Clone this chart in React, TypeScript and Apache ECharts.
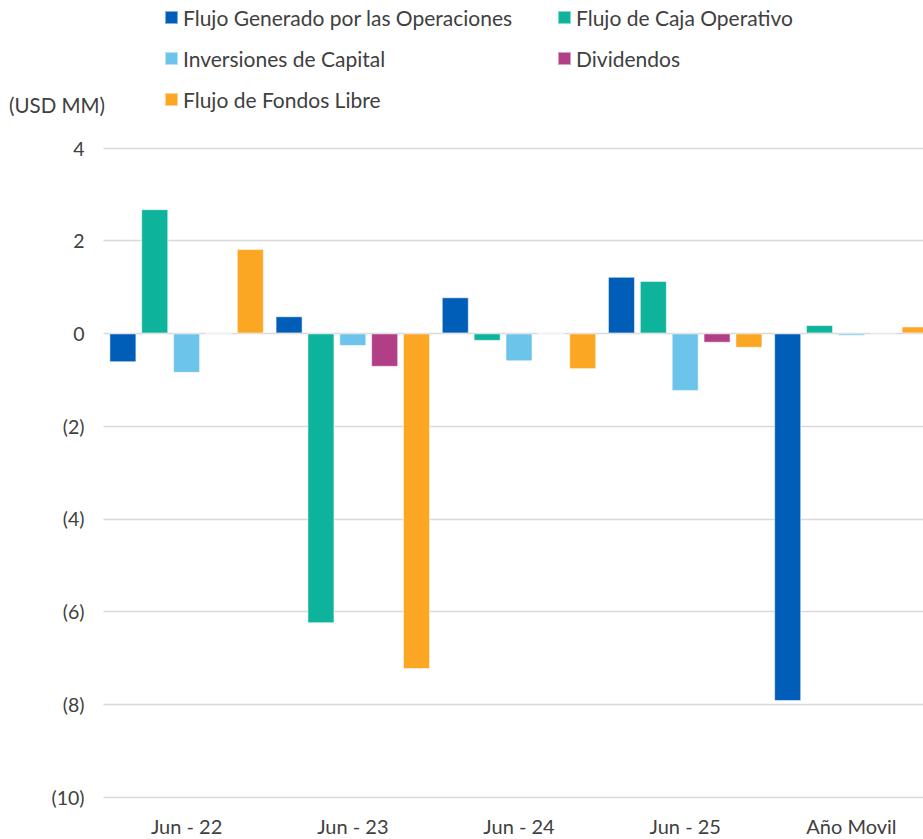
import React, { useEffect, useRef } from "react";
import * as echarts from "echarts";

const categories = ["Jun - 22", "Jun - 23", "Jun - 24", "Jun - 25", "Año Movil"];
const seriesNames = [
  "Flujo Generado por las Operaciones",
  "Flujo de Caja Operativo",
  "Inversiones de Capital",
  "Dividendos",
  "Flujo de Fondos Libre",
];
const flujoGenerado = [-0.62, 0.37, 0.78, 1.22, -7.93];
const flujoCaja = [2.68, -6.25, -0.16, 1.13, 0.18];
const inversiones = [-0.85, -0.27, -0.6, -1.24, -0.05];
const dividendos = [0, -0.72, 0, -0.2, 0.02];
const flujoFondos = [1.82, -7.24, -0.77, -0.31, 0.15];
const colors = ["#005EB8", "#0DB39A", "#6DC4EA", "#B03F86", "#FBA724"];
const yTicks = { min: -10, max: 4, interval: 2 };

const FONT = "Lato, 'Open Sans', sans-serif";

export default function App() {
  const ref = useRef<HTMLDivElement>(null);
  useEffect(() => {
    if (!ref.current) return;
    const chart = echarts.init(ref.current, undefined, { renderer: "svg" });
    const values = [flujoGenerado, flujoCaja, inversiones, dividendos, flujoFondos];
    const legendText = { fontFamily: FONT, fontSize: 21, color: "#404040" };
    const legendCommon = {
      orient: "vertical",
      top: 7,
      itemWidth: 13,
      itemHeight: 13,
      itemGap: 20,
      icon: "rect",
      textStyle: legendText,
      padding: 0,
    };
    chart.setOption({
      animation: false,
      grid: { left: 103.5, top: 148, width: 831, height: 649, containLabel: false },
      legend: [
        { ...legendCommon, left: 164, data: [seriesNames[0], seriesNames[2], seriesNames[4]] },
        { ...legendCommon, left: 557, data: [seriesNames[1], seriesNames[3]] },
      ],
      graphic: [
        {
          type: "text",
          left: 9,
          top: 94,
          style: { text: "(USD MM)", font: `20.5px ${FONT}`, fill: "#404040" },
        },
      ],
      xAxis: {
        type: "category",
        data: categories,
        axisLine: { show: false },
        axisTick: { show: false },
        axisLabel: { fontFamily: FONT, fontSize: 20, color: "#404040", margin: 19 },
      },
      yAxis: {
        type: "value",
        min: yTicks.min,
        max: yTicks.max,
        interval: yTicks.interval,
        axisLine: { show: false },
        axisTick: { show: false },
        splitLine: { lineStyle: { color: "#d9d9d9", width: 1.3 } },
        axisLabel: {
          fontFamily: FONT,
          fontSize: 19.5,
          color: "#404040",
          margin: 19,
          formatter: (v: number) => (v < 0 ? `(${Math.abs(v)})` : `${v}`),
        },
      },
      series: seriesNames.map((name, i) => ({
        name,
        type: "bar",
        data: values[i],
        barWidth: 27,
        barGap: "18%",
        itemStyle: { color: colors[i], borderColor: "rgba(255,255,255,0.5)", borderWidth: 1 },
      })),
    });
    return () => chart.dispose();
  }, []);
  return (
    <div style={{ position: "fixed", left: 0, top: 0, width: 923, height: 839, overflow: "hidden", background: "#fff" }}>
      <div ref={ref} style={{ width: 960, height: 839 }} />
    </div>
  );
}
